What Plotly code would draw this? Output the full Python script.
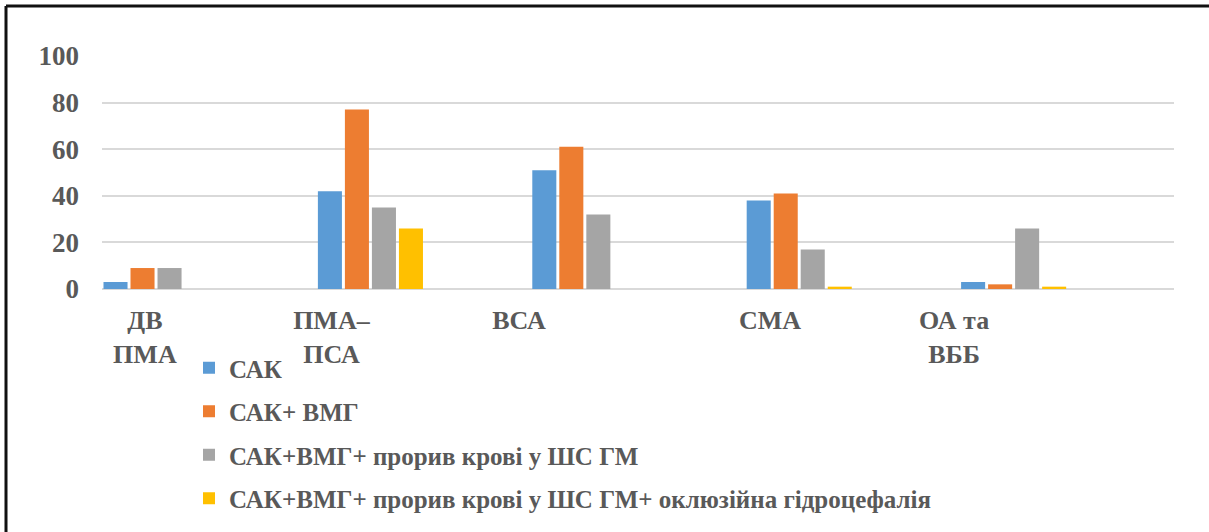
import plotly.graph_objects as go

# Categories (aneurysm location) and series values, %
categories = ["ДВ<br>ПМА", "ПМА–<br>ПСА", "ВСА", "СМА", "ОА та<br>ВББ"]
series_names = [
    "САК",
    "САК+ ВМГ",
    "САК+ВМГ+ прорив крові у ШС ГМ",
    "САК+ВМГ+ прорив крові у ШС ГМ+ оклюзійна гідроцефалія",
]
sak = [3, 42, 51, 38, 3]
sak_vmg = [9, 77, 61, 41, 2]
sak_vmg_proryv = [9, 35, 32, 17, 26]
sak_vmg_proryv_okl = [0, 26, 0, 1, 1]
y_ticks = [0, 20, 40, 60, 80, 100]

series_values = [sak, sak_vmg, sak_vmg_proryv, sak_vmg_proryv_okl]
colors = ["#5B9BD5", "#ED7D31", "#A5A5A5", "#FFC000"]

# layout geometry (pixels)
W, H = 1209, 532
ML, MR, MT, MB = 102, 35, 56, 243
PW = W - ML - MR
PH = H - MT - MB

# bar groups sit in the left half of each category slot
group_shift = -0.248
# category label horizontal shifts (in slot units)
label_shift = [-0.30, -0.43, -0.555, -0.384, -0.526]

TEXT = "#595959"
FONT = "Times New Roman"


def bold(s):
    return f"<b>{s}</b>"


fig = go.Figure()
x_pos = [i + group_shift for i in range(len(categories))]
for k, (name, vals, col) in enumerate(zip(series_names, series_values, colors)):
    fig.add_trace(go.Bar(
        x=x_pos, y=vals, name=bold(name),
        marker=dict(color=col, line=dict(width=0)),
        legendgroup=f"g{k}",
        hovertemplate=f"{name}: %{{y}}<extra></extra>",
    ))


def px_x(px):
    return (px - ML) / PW


def px_y(py):
    return (H - MB - py) / PH


fig.update_layout(
    width=W, height=H,
    margin=dict(l=ML, r=MR, t=MT, b=MB, pad=0, autoexpand=False),
    paper_bgcolor="white", plot_bgcolor="white",
    barmode="group", bargap=0.496, bargroupgap=0.11,
    xaxis=dict(
        range=[-0.5, len(categories) - 0.5],
        tickmode="array",
        tickvals=[i + s for i, s in enumerate(label_shift)],
        ticktext=[bold(c) for c in categories],
        showgrid=False, zeroline=False, showline=False,
        ticks="", ticklabelstandoff=13,
        tickfont=dict(family=FONT, color=TEXT, size=26),
    ),
    yaxis=dict(
        range=[0, 100],
        tickmode="array", tickvals=y_ticks,
        ticktext=[bold(v) for v in y_ticks],
        showgrid=True, gridcolor="#D9D9D9", gridwidth=2,
        zeroline=True, zerolinecolor="#D9D9D9", zerolinewidth=2,
        showline=False, ticks="", ticklabelstandoff=22,
        tickfont=dict(family=FONT, color=TEXT, size=27),
    ),
    legend=dict(
        orientation="v",
        x=px_x(189), y=px_y(345), xanchor="left", yanchor="top",
        font=dict(family=FONT, color=TEXT, size=25),
        bgcolor="rgba(0,0,0,0)",
        tracegroupgap=8, itemwidth=30,
        traceorder="grouped",
    ),
    showlegend=True,
    shapes=[
        # outer frame: left and top edges
        dict(type="line", xref="paper", yref="paper",
             x0=px_x(6), x1=px_x(6), y0=px_y(6), y1=px_y(H + 5),
             line=dict(color="#111111", width=3)),
        dict(type="line", xref="paper", yref="paper",
             x0=px_x(6), x1=px_x(W + 5), y0=px_y(6), y1=px_y(6),
             line=dict(color="#111111", width=3)),
    ],
)

fig.write_html("out.html")
